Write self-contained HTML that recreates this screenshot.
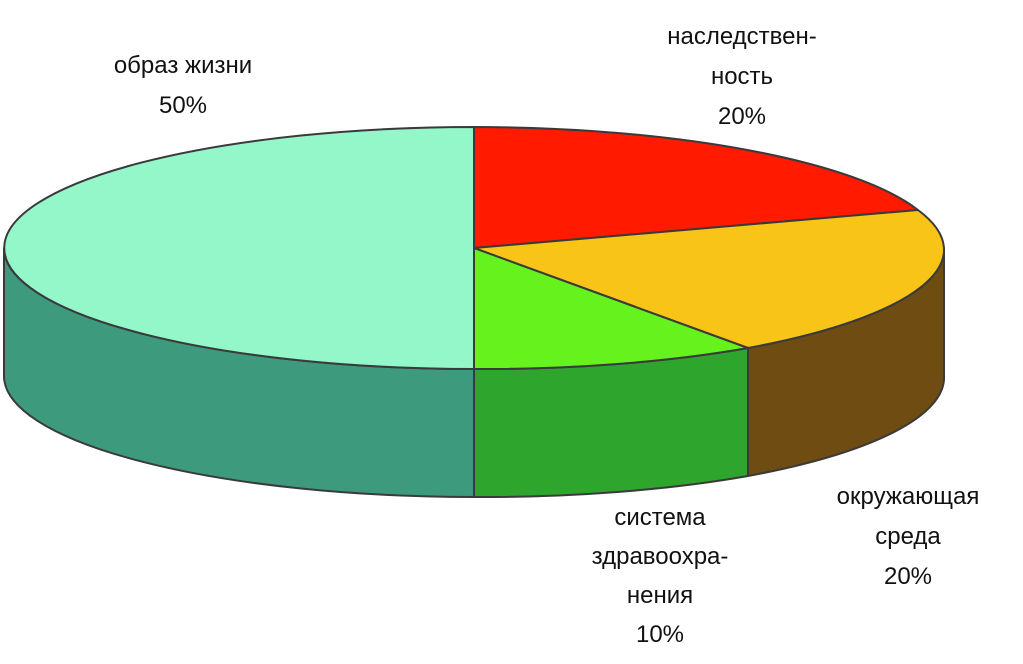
<!DOCTYPE html>
<html><head><meta charset="utf-8"><style>
body{margin:0;background:#fff;}
svg{display:block}
text{font-family:"Liberation Sans",sans-serif;font-size:24px;fill:#111;text-anchor:middle}
</style></head><body>
<svg width="1023" height="664" viewBox="0 0 1023 664" xmlns="http://www.w3.org/2000/svg">
<rect width="1023" height="664" fill="#fff"/>
<g stroke="#3a3a3a" stroke-width="2" stroke-linejoin="round">
<path d="M4,248 L4,376 A470,121 0 0 0 474,497 L474,369 A470,121 0 0 1 4,248 Z" fill="#3d9a7c"/>
<path d="M474,369 L474,497 A470,121 0 0 0 748,476 L748,348 A470,121 0 0 1 474,369 Z" fill="#2ea52c"/>
<path d="M748,348 L748,476 A470,121 0 0 0 944,376 L944,248 A470,121 0 0 1 748,348 Z" fill="#6e4c12"/>
<path d="M474,248 L474,127 A470,121 0 0 0 474,369 Z" fill="#93f7c9"/>
<path d="M474,248 L474,127 A470,121 0 0 1 918,210 Z" fill="#ff1a00"/>
<path d="M474,248 L918,210 A470,121 0 0 1 748,348 Z" fill="#f8c418"/>
<path d="M474,248 L748,348 A470,121 0 0 1 474,369 Z" fill="#66f21c"/>
</g>
<text x="183" y="73">образ жизни</text>
<text x="183" y="113">50%</text>
<text x="742" y="44">наследствен-</text>
<text x="742" y="84">ность</text>
<text x="742" y="124">20%</text>
<text x="908" y="504">окружающая</text>
<text x="908" y="544">среда</text>
<text x="908" y="584">20%</text>
<text x="660" y="525">система</text>
<text x="660" y="564">здравоохра-</text>
<text x="660" y="603">нения</text>
<text x="660" y="642">10%</text>
</svg>
</body></html>
